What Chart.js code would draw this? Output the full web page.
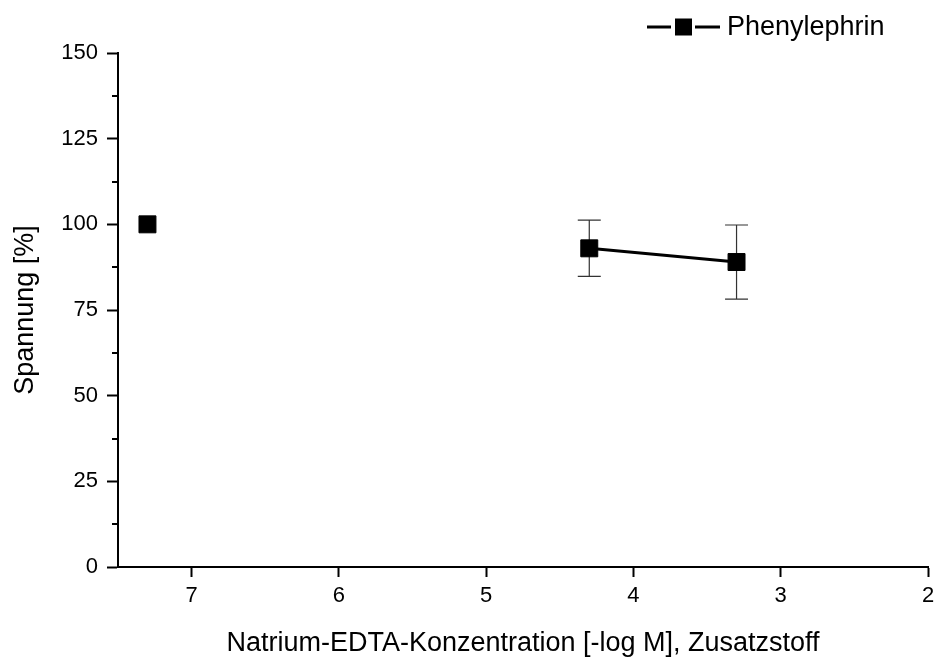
<!DOCTYPE html>
<html>
<head>
<meta charset="utf-8">
<script src="https://cdn.jsdelivr.net/npm/chart.js@4/dist/chart.umd.min.js"></script>
<style>
  html, body { margin: 0; padding: 0; background: #fff; }
  #wrap { width: 936px; height: 662px; position: relative; }
</style>
</head>
<body>
<div id="wrap"><canvas id="chart"></canvas></div>
<script>
/* ── Data ────────────────────────────────────────────── */
const concLogM = [7.3, 4.3, 3.3];
const tension = [100, 93, 89];
const tensionErr = [0, 8.2, 10.8];
const seriesName = 'Phenylephrin';
const xTitle = 'Natrium-EDTA-Konzentration [-log M], Zusatzstoff';
const yTitle = 'Spannung [%]';

const FONT = 'Arial, "Liberation Sans", sans-serif';

/* ── Plugins ─────────────────────────────────────────── */
// error bars, drawn under the markers
const errorBars = {
  id: 'errorBars',
  beforeDatasetsDraw(chart) {
    const { ctx, scales: { x, y } } = chart;
    ctx.save();
    ctx.strokeStyle = '#333';
    ctx.lineWidth = 1.2;
    concLogM.forEach((c, i) => {
      const e = tensionErr[i];
      if (!e) return;
      const px = x.getPixelForValue(c);
      const top = y.getPixelForValue(tension[i] + e);
      const bot = y.getPixelForValue(tension[i] - e);
      ctx.beginPath();
      ctx.moveTo(px, top); ctx.lineTo(px, bot);
      ctx.moveTo(px - 11.5, top); ctx.lineTo(px + 11.5, top);
      ctx.moveTo(px - 11.5, bot); ctx.lineTo(px + 11.5, bot);
      ctx.stroke();
    });
    ctx.restore();
  }
};

// minor y ticks halfway between the major ones
const minorTicks = {
  id: 'minorTicks',
  afterDraw(chart) {
    const { ctx, scales: { y } } = chart;
    ctx.save();
    ctx.strokeStyle = '#000';
    ctx.lineWidth = 2;
    for (let v = 12.5; v < 150; v += 25) {
      const py = Math.round(y.getPixelForValue(v));
      ctx.beginPath();
      ctx.moveTo(y.right - 6, py);
      ctx.lineTo(y.right, py);
      ctx.stroke();
    }
    ctx.restore();
  }
};

// Origin-style legend: line - square - line, label
const originLegend = {
  id: 'originLegend',
  afterDraw(chart) {
    const { ctx } = chart;
    const cy = 27;
    ctx.save();
    ctx.strokeStyle = '#000';
    ctx.lineWidth = 3;
    ctx.beginPath();
    ctx.moveTo(647, cy); ctx.lineTo(671, cy);
    ctx.moveTo(695, cy); ctx.lineTo(720, cy);
    ctx.stroke();
    ctx.fillStyle = '#000';
    ctx.fillRect(675, cy - 8.5, 17, 17);
    ctx.font = '27px ' + FONT;
    ctx.textBaseline = 'middle';
    ctx.fillText(seriesName, 727, cy + 1);
    ctx.restore();
  }
};

/* ── Chart ───────────────────────────────────────────── */
new Chart(document.getElementById('chart'), {
  type: 'line',
  data: {
    datasets: [{
      label: seriesName,
      data: concLogM.map((c, i) => ({ x: c, y: tension[i] })),
      borderColor: '#000',
      borderWidth: 3,
      pointStyle: 'rect',
      pointRadius: 12,
      pointBackgroundColor: '#000',
      pointBorderColor: '#000',
      pointBorderWidth: 1,
      segment: {
        // first measurement stands alone, no connecting line
        borderColor: ctx => ctx.p0DataIndex === 0 ? 'transparent' : '#000'
      }
    }]
  },
  options: {
    responsive: true,
    maintainAspectRatio: false,
    animation: false,
    layout: { autoPadding: false, padding: { top: 53, right: 8, left: 0, bottom: 0 } },
    plugins: {
      legend: { display: false },
      tooltip: { enabled: false }
    },
    scales: {
      x: {
        type: 'linear',
        reverse: true,
        min: 2,
        max: 7.5,
        afterFit: s => { s.height = 95; s.paddingLeft = 0; s.paddingRight = 0; },
        border: { display: true, color: '#000', width: 2 },
        grid: { drawOnChartArea: false, drawTicks: true, tickLength: 10, tickColor: '#000', tickWidth: 2 },
        ticks: {
          stepSize: 1,
          includeBounds: false,
          color: '#000',
          padding: 6,
          maxRotation: 0,
          font: { family: FONT, size: 22 }
        },
        title: {
          display: true,
          text: xTitle,
          color: '#000',
          padding: { top: 10, bottom: 2 },
          font: { family: FONT, size: 27 }
        }
      },
      y: {
        min: 0,
        max: 150,
        afterFit: s => { s.width = 118; s.paddingTop = 0; s.paddingBottom = 0; },
        border: { display: true, color: '#000', width: 2 },
        grid: { drawOnChartArea: false, drawTicks: true, tickLength: 11, tickColor: '#000', tickWidth: 2 },
        ticks: {
          stepSize: 25,
          color: '#000',
          padding: 9,
          font: { family: FONT, size: 22 }
        },
        title: {
          display: true,
          text: yTitle,
          color: '#000',
          padding: { top: 9, bottom: 0 },
          font: { family: FONT, size: 27 }
        }
      }
    }
  },
  plugins: [errorBars, minorTicks, originLegend]
});
</script>
</body>
</html>
